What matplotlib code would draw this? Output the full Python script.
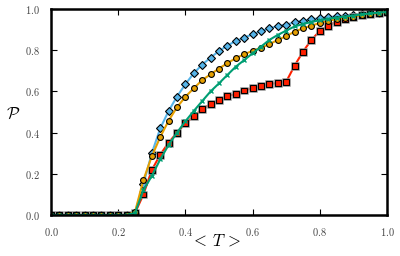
import matplotlib
matplotlib.use("Agg")
import matplotlib.pyplot as plt
import matplotlib.patheffects as pe

plt.rcParams['mathtext.fontset'] = 'cm'
plt.rcParams['font.family'] = 'serif'
plt.rcParams['font.serif'] = ['DejaVu Serif']

T = [0.0, 0.025, 0.05, 0.075, 0.1, 0.125, 0.15, 0.175, 0.2, 0.225,
     0.25, 0.275, 0.3, 0.325, 0.35, 0.375, 0.4, 0.425, 0.45, 0.475,
     0.5, 0.525, 0.55, 0.575, 0.6, 0.625, 0.65, 0.675, 0.7, 0.725,
     0.75, 0.775, 0.8, 0.825, 0.85, 0.875, 0.9, 0.925, 0.95, 0.975, 1.0]

zeros = [0.0] * 10
blue = zeros + [0.01, 0.15, 0.30, 0.42, 0.505, 0.575, 0.635, 0.688, 0.73, 0.764,
                0.796, 0.822, 0.845, 0.861, 0.877, 0.893, 0.906, 0.917, 0.924, 0.935,
                0.943, 0.95, 0.955, 0.96, 0.964, 0.968, 0.972, 0.976, 0.979, 0.982, 0.985]
orange = zeros + [0.015, 0.17, 0.285, 0.378, 0.458, 0.523, 0.574, 0.615, 0.655, 0.683,
                  0.711, 0.737, 0.761, 0.78, 0.797, 0.812, 0.829, 0.85, 0.868, 0.89,
                  0.906, 0.919, 0.932, 0.943, 0.95, 0.956, 0.963, 0.97, 0.976, 0.98, 0.985]
red = zeros + [0.01, 0.10, 0.218, 0.293, 0.351, 0.40, 0.445, 0.48, 0.513, 0.539,
               0.558, 0.579, 0.586, 0.604, 0.616, 0.627, 0.634, 0.642, 0.647, 0.725,
               0.793, 0.85, 0.893, 0.919, 0.938, 0.951, 0.963, 0.971, 0.976, 0.982, 0.985]
green = zeros + [0.01, 0.12, 0.19, 0.27, 0.34, 0.40, 0.455, 0.505, 0.553, 0.60,
                 0.639, 0.68, 0.72, 0.752, 0.785, 0.817, 0.85, 0.874, 0.895, 0.915,
                 0.927, 0.937, 0.945, 0.952, 0.958, 0.963, 0.968, 0.974, 0.978, 0.982, 0.985]

ticks = [0.0, 0.2, 0.4, 0.6, 0.8, 1.0]

fig = plt.figure(figsize=(4.0, 2.56), dpi=100)
ax = fig.add_axes([0.1275, 0.16, 0.84, 0.805])

ms = 4.2
ax.plot(T, blue, '-', color='#56B4E9', lw=1.5, marker='D', ms=4.0,
        mfc='#56B4E9', mec='black', mew=0.8, zorder=3)
ax.plot(T, red, '-', color='#FF2000', lw=1.5, zorder=3)
ax.plot(T, red, 's', ms=ms, mfc='#FF2000', mec='black', mew=0.8, zorder=3.1,
        path_effects=[pe.Stroke(linewidth=1.8, foreground='#999999'), pe.Normal()])
ax.plot(T, orange, '-', color='#E69F00', lw=1.5, marker='o', ms=ms,
        mfc='#E69F00', mec='black', mew=0.8, zorder=3.2)
ax.plot(T, green, '-', color='#009E73', lw=1.5, marker='x', ms=3.5,
        mew=1.0, zorder=3.3)

ax.set_xlim(0, 1)
ax.set_ylim(0, 1)
ax.set_xticks(ticks)
ax.set_yticks(ticks)
ax.set_xticklabels([f'${v:.1f}$' for v in ticks], fontsize=7.5)
ax.set_yticklabels([f'${v:.1f}$' for v in ticks], fontsize=7.5)
ax.tick_params(direction='in', length=4, width=0.8, top=True, right=True,
               colors='black', labelcolor='#444444', pad=8)
for s in ax.spines.values():
    s.set_linewidth(1.8)
    s.set_zorder(5)

ax.set_xlabel(r'$<\,T\,>$', fontsize=12, va='center')
ax.xaxis.set_label_coords(0.49, -0.128)
ax.set_ylabel(r'$\mathcal{P}$', fontsize=12, rotation=0, va='center')
ax.yaxis.set_label_coords(-0.113, 0.49)

fig.savefig('out.png', dpi=100)
